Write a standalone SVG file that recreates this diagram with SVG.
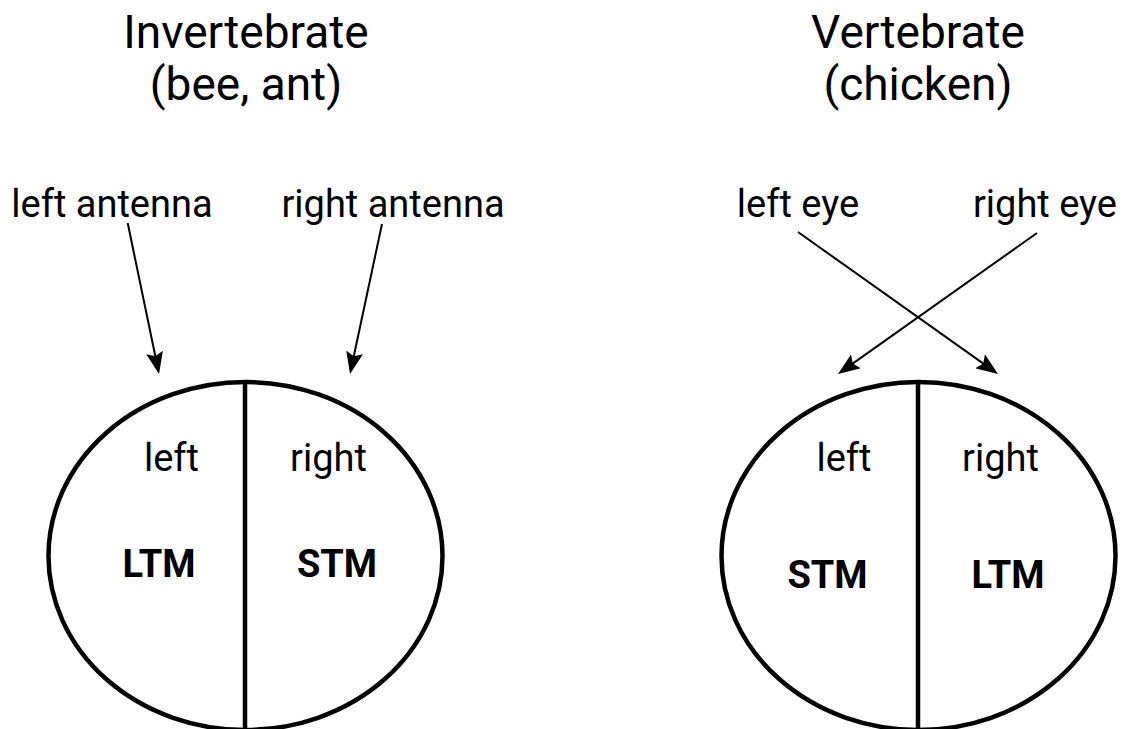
<svg xmlns="http://www.w3.org/2000/svg" width="1134" height="729" viewBox="0 0 1134 729">
  <style>
    text { font-family: Roboto, "Liberation Sans", sans-serif; fill: #000; text-anchor: middle; }
    .title { font-size: 46px; }
    .lbl { font-size: 38px; }
    .mem { font-size: 38px; font-weight: bold; }
    .shape { fill: #fff; stroke: #000; stroke-width: 4.5; }
    .div { stroke: #000; stroke-width: 4.5; fill: none; }
    .conn { stroke: #000; stroke-width: 2; fill: none; marker-end: url(#arrow); }
  </style>
  <defs>
    <marker id="arrow" markerUnits="userSpaceOnUse" markerWidth="22" markerHeight="17" refX="11" refY="8.5" orient="auto">
      <path d="M0,0 L22,8.5 L0,17 L4,8.5 Z" fill="#000"/>
    </marker>
  </defs>
  <rect width="1134" height="729" fill="#fff"/>

  <g id="title-invertebrate">
    <text class="title" x="246" y="48">Invertebrate</text>
    <text class="title" x="246" y="100">(bee, ant)</text>
  </g>
  <g id="title-vertebrate">
    <text class="title" x="918" y="48">Vertebrate</text>
    <text class="title" x="918" y="100">(chicken)</text>
  </g>

  <g id="label-left-antenna"><text class="lbl" x="112" y="217">left antenna</text></g>
  <g id="label-right-antenna"><text class="lbl" x="393" y="217">right antenna</text></g>
  <g id="label-left-eye"><text class="lbl" x="798" y="217">left eye</text></g>
  <g id="label-right-eye"><text class="lbl" x="1045" y="217">right eye</text></g>

  <g id="brain-invertebrate">
    <ellipse class="shape" cx="245.5" cy="556" rx="197" ry="174"/>
    <line class="div" x1="245" y1="382" x2="245" y2="729"/>
    <text class="lbl" x="171.5" y="471">left</text>
    <text class="lbl" x="328.5" y="471">right</text>
    <text class="mem" x="159" y="577">LTM</text>
    <text class="mem" x="337" y="577">STM</text>
  </g>

  <g id="brain-vertebrate">
    <ellipse class="shape" cx="918.5" cy="556" rx="197" ry="174"/>
    <line class="div" x1="918" y1="382" x2="918" y2="729"/>
    <text class="lbl" x="844" y="471">left</text>
    <text class="lbl" x="1000.5" y="471">right</text>
    <text class="mem" x="827.5" y="588">STM</text>
    <text class="mem" x="1008" y="588">LTM</text>
  </g>

  <g id="connectors">
    <line class="conn" x1="127.7" y1="223" x2="156.8" y2="363.2"/>
    <line class="conn" x1="382" y1="224" x2="352.3" y2="363.2"/>
    <line class="conn" x1="798" y1="232" x2="989" y2="367.6"/>
    <line class="conn" x1="1037" y1="233" x2="847" y2="367.6"/>
  </g>
</svg>
